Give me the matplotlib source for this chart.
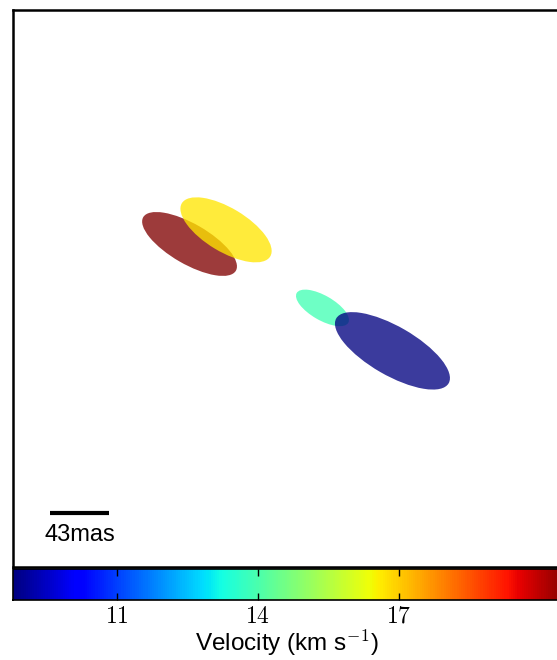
import matplotlib
matplotlib.use("Agg")
import matplotlib.pyplot as plt
from matplotlib.patches import Ellipse
from matplotlib.colors import Normalize
from matplotlib.cm import ScalarMappable

plt.rcParams['mathtext.fontset'] = 'cm'
plt.rcParams['font.family'] = ['Liberation Sans', 'DejaVu Sans']

# --- maser spot data (offsets in mas) ---
spot_x = [-74.1, -47.5, 22.8, 73.8]
spot_y = [32.4, 42.7, -14.2, -45.5]
spot_w = [78.0, 75.2, 43.4, 94.6]      # full major axis
spot_h = [29.4, 31.9, 17.9, 35.6]      # full minor axis
spot_pa = [-30.0, -31.0, -30.0, -30.0]
spot_vel = [20.6, 16.7, 13.9, 8.8]

vel_min, vel_max = 8.79, 20.64
cbar_ticks = [11, 14, 17]
scale_len = 43.0

fig = plt.figure(figsize=(5.57, 6.6), dpi=100)
ax = fig.add_axes([0.0228, 0.141, 1.0, 0.844])
cax = fig.add_axes([0.0228, 0.0909, 1.0, 0.047])

cmap = plt.get_cmap('jet')
norm = Normalize(vmin=vel_min, vmax=vel_max)

for x, y, w, h, pa, v in zip(spot_x, spot_y, spot_w, spot_h, spot_pa, spot_vel):
    e = Ellipse((x, y), w, h, angle=pa, facecolor=cmap(norm(v)),
                edgecolor='none', alpha=0.77)
    ax.add_patch(e)

# scale bar
ax.plot([-175.8, -175.8 + scale_len], [-163.4, -163.4], color='k', lw=3,
        solid_capstyle='butt')
ax.text(-154.3, -179.7, '%dmas' % scale_len, ha='center', va='center',
        fontsize=17)

ax.set_xlim(-203, 203)
ax.set_ylim(-203, 203)
ax.set_aspect('equal')
ax.set_xticks([])
ax.set_yticks([])
for s in ax.spines.values():
    s.set_linewidth(1.8)

sm = ScalarMappable(norm=norm, cmap=cmap)
cb = fig.colorbar(sm, cax=cax, orientation='horizontal')
cb.set_ticks(cbar_ticks)
cb.set_ticklabels(['$%d$' % t for t in cbar_ticks])
cax.tick_params(direction='in', length=5, width=1, top=True, bottom=True,
                labelsize=17, pad=4)
cb.outline.set_linewidth(1.2)
cb.set_label(r'Velocity (km s$^{-1}$)', fontsize=17.5, labelpad=0)
cax.xaxis.label.set_x(0.492)

fig.savefig('out.png', dpi=100)
